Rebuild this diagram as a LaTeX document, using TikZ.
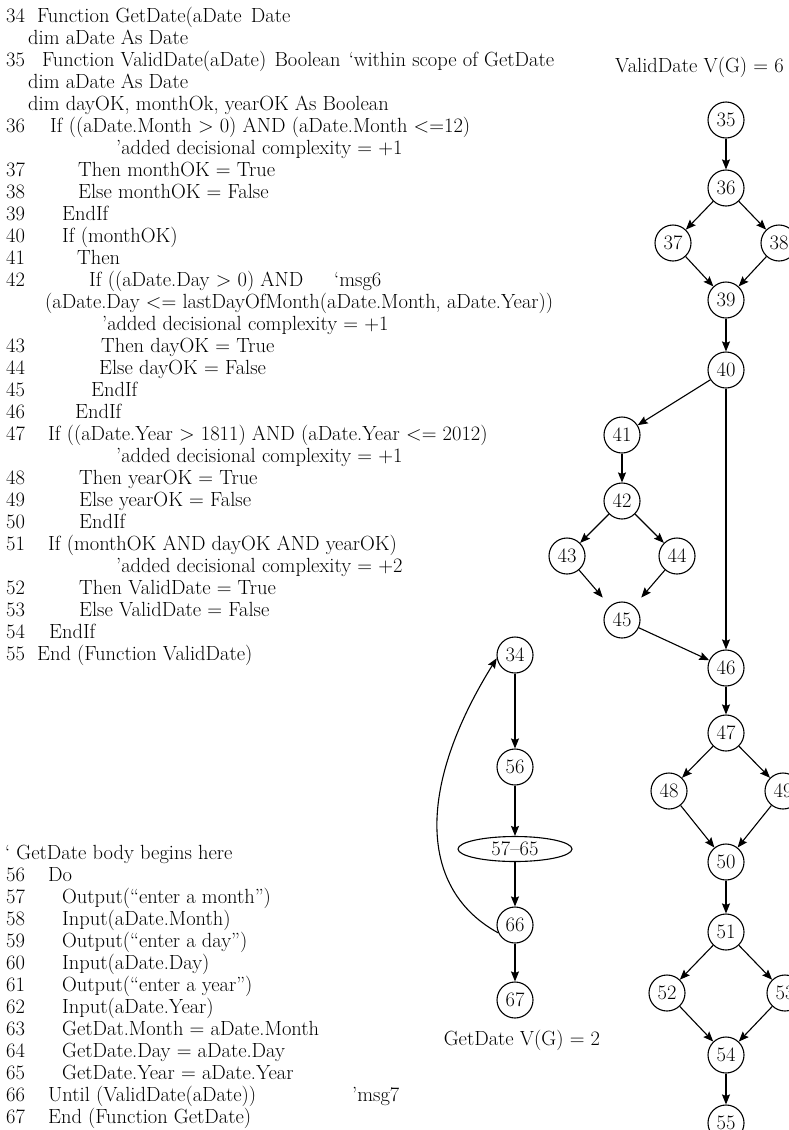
\documentclass[tikz,border=0pt]{standalone}
\usepackage{fontspec}
\usetikzlibrary{arrows.meta,shapes.geometric}

\begin{document}
\begin{tikzpicture}[>={Stealth[length=10pt,width=8pt,inset=1.5pt]},x=1pt,y=-1pt,
    font=\fontsize{20.5}{22}\selectfont,
    ln/.style={anchor=base west,inner sep=0pt},
    vx/.style={circle,draw,line width=1.1pt,minimum size=36pt,inner sep=0pt},
    blob/.style={ellipse,draw,line width=1.1pt,minimum width=114pt,minimum height=25pt,inner sep=0pt},
    arr/.style={->,line width=1.1pt}]
            \useasboundingbox (0,0) rectangle (789,1130);
            \clip (0,0) rectangle (789,1130);
            \foreach \n/\y in {34/22,35/66,36/132,37/176,38/198,39/220,40/242,41/264,42/286,43/352,44/374,45/396,46/418,47/440,48/484,49/506,50/528,51/550,52/594,53/616,54/638,55/660,56/881,57/903,58/925,59/947,60/969,61/991,62/1013,63/1035,64/1057,65/1079,66/1101,67/1123}
                \node [ln] (n\n) at (6,\y) {\n};
            \node [ln] (c34) at (37,22) {Function GetDate(aDate\hspace{0.45em}Date};
            \node [ln] (d34) at (28,44) {dim aDate As Date};
            \node [ln] (c35) at (42,66) {Function ValidDate(aDate)\hspace{0.4em}Boolean\hspace{0.4em}‘within scope of GetDate};
            \node [ln] (d35a) at (28,88) {dim aDate As Date};
            \node [ln] (d35b) at (28,110) {dim dayOK, monthOk, yearOK As Boolean};
            \node [ln] (c36) at (50,132) {If ((aDate.Month > 0) AND (aDate.Month <=12)};
            \node [ln] (k36) at (116,154) {’added decisional complexity = +1};
            \node [ln] (c37) at (78,176) {Then monthOK = True};
            \node [ln] (c38) at (78,198) {Else monthOK = False};
            \node [ln] (c39) at (62,220) {EndIf};
            \node [ln] (c40) at (62,242) {If (monthOK)};
            \node [ln] (c41) at (77,264) {Then};
            \node [ln] (c42) at (89,286) {If ((aDate.Day > 0) AND};
            \node [ln] (m42) at (334,286) {‘msg6};
            \node [ln] (e42) at (45,308) {(aDate.Day <= lastDayOfMonth(aDate.Month, aDate.Year))};
            \node [ln] (k42) at (102,330) {’added decisional complexity = +1};
            \node [ln] (c43) at (101,352) {Then dayOK = True};
            \node [ln] (c44) at (99,374) {Else dayOK = False};
            \node [ln] (c45) at (91,396) {EndIf};
            \node [ln] (c46) at (75,418) {EndIf};
            \node [ln] (c47) at (48,440) {If ((aDate.Year > 1811) AND (aDate.Year <= 2012)};
            \node [ln] (k47) at (116,462) {’added decisional complexity = +1};
            \node [ln] (c48) at (79,484) {Then yearOK = True};
            \node [ln] (c49) at (79,506) {Else yearOK = False};
            \node [ln] (c50) at (79,528) {EndIf};
            \node [ln] (c51) at (48,550) {If (monthOK AND dayOK AND yearOK)};
            \node [ln] (k51) at (116,572) {’added decisional complexity = +2};
            \node [ln] (c52) at (79,594) {Then ValidDate = True};
            \node [ln] (c53) at (79,616) {Else ValidDate = False};
            \node [ln] (c54) at (49,638) {EndIf};
            \node [ln] (c55) at (37,660) {End (Function ValidDate)};
            \node [ln] (body) at (5,859) {‘ GetDate body begins here};
            \node [ln] (c56) at (48,881) {Do};
            \node [ln] (c57) at (62,903) {Output(“enter a month”)};
            \node [ln] (c58) at (62,925) {Input(aDate.Month)};
            \node [ln] (c59) at (62,947) {Output(“enter a day”)};
            \node [ln] (c60) at (62,969) {Input(aDate.Day)};
            \node [ln] (c61) at (62,991) {Output(“enter a year”)};
            \node [ln] (c62) at (62,1013) {Input(aDate.Year)};
            \node [ln] (c63) at (62,1035) {GetDat.Month = aDate.Month};
            \node [ln] (c64) at (62,1057) {GetDate.Day = aDate.Day};
            \node [ln] (c65) at (62,1079) {GetDate.Year = aDate.Year};
            \node [ln] (c66) at (48,1101) {Until (ValidDate(aDate))};
            \node [ln] (m66) at (352,1101) {’msg7};
            \node [ln] (c67) at (48,1123) {End (Function GetDate)};
            \node [ln] (vgv) at (615,72) {ValidDate V(G) = 6};
            \node [vx] (v35) at (726,120) {35};
            \node [vx] (v36) at (726,188) {36};
            \node [vx] (v37) at (673,243) {37};
            \node [vx] (v38) at (779,243) {38};
            \node [vx] (v39) at (726,300) {39};
            \node [vx] (v40) at (726,370) {40};
            \node [vx] (v41) at (622,435) {41};
            \node [vx] (v42) at (622,501) {42};
            \node [vx] (v43) at (567,556) {43};
            \node [vx] (v44) at (677,556) {44};
            \node [vx] (v45) at (622,620) {45};
            \node [vx] (v46) at (726,668) {46};
            \node [vx] (v47) at (726,733) {47};
            \node [vx] (v48) at (669,791) {48};
            \node [vx] (v49) at (783,791) {49};
            \node [vx] (v50) at (726,862) {50};
            \node [vx] (v51) at (726,932) {51};
            \node [vx] (v52) at (667,993) {52};
            \node [vx] (v53) at (785,993) {53};
            \node [vx] (v54) at (726,1055) {54};
            \node [vx] (v55) at (726,1123) {55};
            \draw [arr] (v35) -- (v36);
            \draw [arr] (v36) -- (v37);
            \draw [arr] (v36) -- (v38);
            \draw [arr] (v37) -- (v39);
            \draw [arr] (v38) -- (v39);
            \draw [arr] (v39) -- (v40);
            \draw [arr] (v40) -- (v41);
            \draw [arr] (v40) -- (v46);
            \draw [arr] (v41) -- (v42);
            \draw [arr] (v42) -- (v43);
            \draw [arr] (v42) -- (v44);
            \draw [arr,shorten >=11pt] (v43) -- (v45);
            \draw [arr,shorten >=11pt] (v44) -- (v45);
            \draw [arr] (v45) -- (v46);
            \draw [arr] (v46) -- (v47);
            \draw [arr] (v47) -- (v48);
            \draw [arr] (v47) -- (v49);
            \draw [arr] (v48) -- (v50);
            \draw [arr] (v49) -- (v50);
            \draw [arr] (v50) -- (v51);
            \draw [arr] (v51) -- (v52);
            \draw [arr] (v51) -- (v53);
            \draw [arr] (v52) -- (v54);
            \draw [arr] (v53) -- (v54);
            \draw [arr] (v54) -- (v55);
            \node [vx] (g34) at (515,655) {34};
            \node [vx] (g56) at (515,767) {56};
            \node [blob] (g57) at (515,849) {57–65};
            \node [vx] (g66) at (515,925) {66};
            \node [vx] (g67) at (515,1000) {67};
            \node [anchor=base] (ggv) at (522,1045) {GetDate V(G) = 2};
            \draw [arr] (g34) -- (g56);
            \draw [arr] (g56) -- (g57);
            \draw [arr] (g57) -- (g66);
            \draw [arr] (g66) -- (g67);
            \draw [arr] (g66.205) .. controls (420,890) and (415,790) .. (g34.190);
        \end{tikzpicture}
\end{document}
